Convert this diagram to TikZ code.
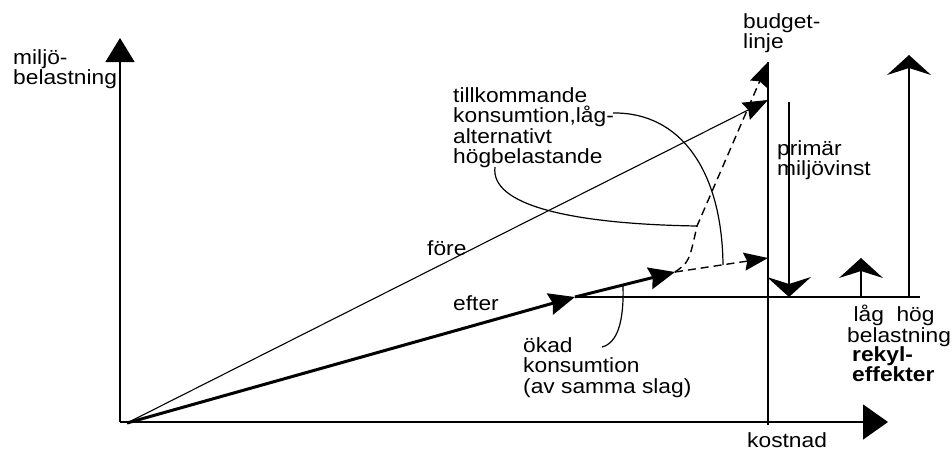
\documentclass[tikz,border=0pt]{standalone}
\usepackage{fontspec}
\setmainfont{Liberation Sans}
\usetikzlibrary{arrows.meta}

\begin{document}
\begin{tikzpicture}[
    x=1pt, y=-1pt,
    yaxis/.style={line width=1.5pt, -{Triangle[length=24pt,width=29pt]}},
    xaxis/.style={line width=1.5pt, -{Triangle[length=25pt,width=35pt]}},
    thinline/.style={line width=1.3pt},
    foreline/.style={line width=1.1pt, -{Stealth[length=25pt,width=19pt,inset=3pt]}},
    efterline/.style={line width=3pt, -{Stealth[length=26pt,width=22pt,inset=3pt]}},
    tillk/.style={line width=1.4pt, dash pattern=on 8pt off 5pt, -{Stealth[length=24pt,width=18pt,inset=3pt]}},
    pil/.style={line width=1.4pt, -{Stealth[length=20pt,width=44pt,inset=7pt]}},
    leader/.style={line width=1.2pt},
    lbl/.style={font=\fontsize{20.5}{20.5}\selectfont, align=left, inner sep=0pt, anchor=north west, xscale=1.11, transform shape}
  ]
  \useasboundingbox (0,0) rectangle (952,453);

  % axes and budget line
  \coordinate (corner) at (120,422);
  \draw[yaxis] (corner) -- (120,38);
  \draw[xaxis] (corner) -- (888,422);
  \coordinate (budtop) at (768,62);
  \coordinate (budbot) at (768,425);
  \draw[thinline] (budtop) -- (budbot);

  % consumption lines
  \coordinate (O) at (127,423);
  \coordinate (foreend) at (768,100);
  \coordinate (effmid) at (575,297);
  \coordinate (effend) at (675,272);
  \coordinate (lowend) at (768,258);
  \coordinate (knee) at (697,226);
  \draw[foreline] (O) -- (foreend);
  \draw[efterline] (O) -- (effmid);
  \draw[efterline] (effmid) -- (effend);
  \draw[tillk] (effend) -- (lowend);
  \draw[tillk] (effend) .. controls (689,262) .. (knee) -- (budtop);
  \coordinate (hend) at (920,297);
  \draw[thinline] (effmid) -- (hend);

  % primary gain and rebound arrows
  \draw[pil] (789,102) -- (789,297);
  \draw[pil] (861,297) -- (861,258);
  \draw[pil] (909,297) -- (909,55);

  % leaders
  \coordinate (lead1) at (613,113);
  \coordinate (lead1end) at (723,265);
  \coordinate (lead2) at (495,167);
  \coordinate (lead3) at (602,347);
  \coordinate (lead3end) at (623,286);
  \draw[leader] (lead1) .. controls (680,112) and (722,170) .. (lead1end);
  \draw[leader] (lead2) .. controls (490,205) and (570,224) .. (knee);
  \draw[leader] (lead3) .. controls (618,343) and (624,320) .. (lead3end);

  % labels
  \node[lbl] (ylbl) at (13,49) {miljö-\\belastning};
  \node[lbl] (budlbl) at (743,13) {budget-\\linje};
  \node[lbl] (tilllbl) at (453,87) {tillkommande\\konsumtion,låg-\\alternativt\\högbelastande};
  \node[lbl] (forelbl) at (427,240) {före};
  \node[lbl] (efterlbl) at (453,295) {efter};
  \node[lbl] (okadlbl) at (523,337) {ökad\\konsumtion\\(av samma slag)};
  \node[lbl] (primlbl) at (777,140) {primär\\miljövinst};
  \node[lbl] (belastlbl) at (847,305) {\ låg\ \ hög\\belastning};
  \node[lbl, font=\fontsize{20.5}{20.5}\selectfont\bfseries] (rekyllbl) at (852,346) {rekyl-\\effekter};
  \node[lbl] (kostlbl) at (747,432) {kostnad};
\end{tikzpicture}
\end{document}
